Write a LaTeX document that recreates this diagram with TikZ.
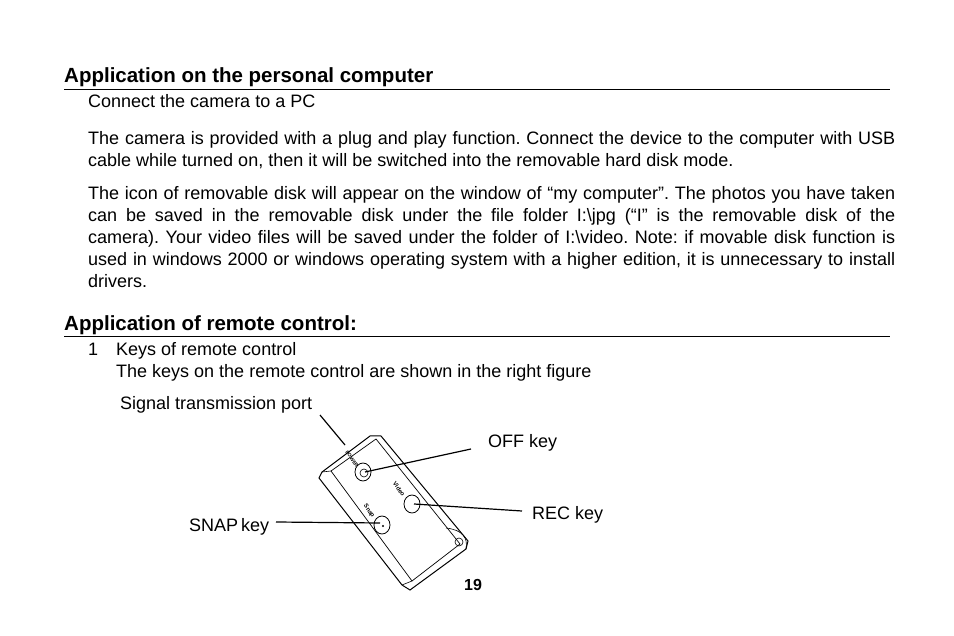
\documentclass[tikz,border=0pt]{standalone}
\usepackage{fontspec}
\setmainfont{Liberation Sans}
\frenchspacing
\begin{document}
\begin{tikzpicture}[x=1pt,y=-1pt,
  body/.style={anchor=base west,inner sep=0,font=\fontsize{18}{22}\selectfont},
  head/.style={anchor=base west,inner sep=0,font=\fontsize{20.5}{22}\selectfont\bfseries},
  lead/.style={line width=1.2pt},
  tiny/.style={inner sep=0,font=\fontsize{5}{5}\selectfont\bfseries}]
\useasboundingbox (0,0) rectangle (954,636);
\node[head] (h1) at (64,83) {Application on the personal computer};
\draw[line width=0.9pt] (64,89) -- (890,89);
\node[body] (t1) at (88,108) {Connect the camera to a PC};
\node[body,text width=807pt,align=justify] (p1) at (88,145) {The camera is provided with a plug and play function. Connect the device to the computer with USB\linebreak cable while turned on, then it will be switched into the removable hard disk mode.};
\node[body,text width=807pt,align=justify,anchor=north west] (p2) at (88,186) {The icon of removable disk will appear on the window of “my computer”. The photos you have taken\linebreak can be saved in the removable disk under the file folder I:\textbackslash jpg (“I” is the removable disk of the\linebreak camera). Your video files will be saved under the folder of I:\textbackslash video. Note: if movable disk function is\linebreak used in windows 2000 or windows operating system with a higher edition, it is unnecessary to install\linebreak drivers.};
\node[head] (h2) at (64,331) {Application of remote control:};
\draw[line width=0.9pt] (64,336) -- (890,336);
\node[body] (k1) at (88,356) {1\hspace{18pt}Keys of remote control};
\node[body] (k2) at (116,378) {The keys on the remote control are shown in the right figure};
\node[body] (sig) at (120,410) {Signal transmission port};
\node[body] (off) at (488,448) {OFF key};
\node[body] (rec) at (532,519) {REC key};
\node[body] (snap) at (189,531) {SNAP\,key};
\node[head,font=\fontsize{16}{16}\selectfont\bfseries] (pg) at (464,590) {19};
% remote
\draw[line width=1pt,fill=white] (322,472) -- (370,436) -- (381,436) -- (468,541) -- (466,549) -- (410,590) -- (402,585) -- (319,478) -- cycle;
\draw[line width=0.7pt] (331,471) -- (376,439) -- (460,544) -- (412,581) -- cycle;
\draw[line width=0.6pt] (322,472) -- (331,471);
\draw[line width=0.6pt] (402,585) -- (412,581);
\draw[line width=0.6pt] (446,528) .. controls (463,530) and (468,538) .. (466,549);
\draw[line width=0.6pt] (459,542) circle (4);
\draw[line width=0.8pt] (363,472) ellipse (8 and 9);
\draw[line width=0.6pt] (364,473) circle (4);
\draw[line width=0.8pt] (412,504) ellipse (8 and 9);
\draw[line width=0.8pt] (382,525) ellipse (8 and 9);
\fill (383,526) circle (1.2);
\node[tiny,rotate=-55] (pw) at (352,459) {POWER};
\node[tiny,rotate=-55,font=\fontsize{6}{6}\selectfont\bfseries] (vd) at (399,489) {Video};
\node[tiny,rotate=-55,font=\fontsize{6}{6}\selectfont\bfseries] (sn) at (369,511) {Snap};
\coordinate (cport) at (345,445);
\coordinate (coff) at (365,472);
\coordinate (crec) at (414,504);
\coordinate (csnap) at (380,523);
\draw[lead] (320,415) -- (cport);
\draw[lead] (471,449) -- (coff);
\draw[lead] (522,511) -- (crec);
\draw[lead] (276,522) -- (csnap);
\end{tikzpicture}
\end{document}
